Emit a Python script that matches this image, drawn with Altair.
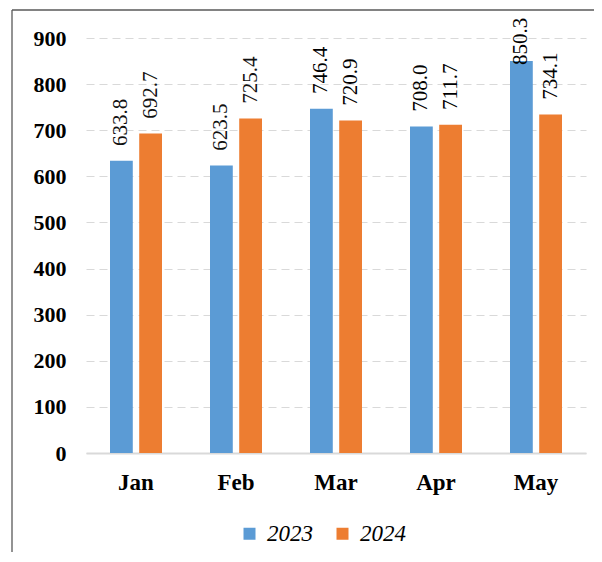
import altair as alt
import pandas as pd

months = ["Jan", "Feb", "Mar", "Apr", "May"]
years = ["2023", "2024"]
v2023 = [633.8, 623.5, 746.4, 708.0, 850.3]
v2024 = [692.7, 725.4, 720.9, 711.7, 734.1]
y_ticks = [0, 100, 200, 300, 400, 500, 600, 700, 800, 900]
sans_months = ["Jan", "Feb"]

rows = []
for m, a, b in zip(months, v2023, v2024):
    rows.append({"month": m, "year": "2023", "value": a})
    rows.append({"month": m, "year": "2024", "value": b})
df = pd.DataFrame(rows)

SERIF = "Liberation Serif"
SANS = "Liberation Sans Narrow"

x_enc = alt.X(
    "month:N", sort=months, title=None,
    scale=alt.Scale(paddingInner=0.48, paddingOuter=0.24),
    axis=alt.Axis(labelAngle=0, labelFont=SERIF, labelFontWeight="bold",
                  labelFontSize=23, labelColor="#000000", labelPadding=18,
                  ticks=False, domainColor="#d9d9d9", domainWidth=2, grid=False),
)
xoff_enc = alt.XOffset("year:N", sort=years, scale=alt.Scale(paddingInner=0.22))
y_scale = alt.Scale(domain=[0, 900], nice=False)

base = alt.Chart(df)

bars = base.mark_bar().encode(
    x=x_enc,
    xOffset=xoff_enc,
    y=alt.Y("value:Q", scale=y_scale, title=None,
            axis=alt.Axis(values=y_ticks, labelFont=SERIF, labelFontWeight="bold",
                          labelFontSize=22, labelColor="#000000", labelPadding=20,
                          ticks=False, domain=False, grid=True, gridColor="#d9d9d9",
                          gridDash=[8, 5], gridWidth=1.2)),
    color=alt.Color("year:N", sort=years,
                    scale=alt.Scale(domain=years, range=["#5B9BD5", "#ED7D31"]),
                    legend=alt.Legend(title=None, orient="none", direction="horizontal",
                                      legendX=152, legendY=484, symbolType="square",
                                      symbolSize=144, symbolStrokeWidth=0,
                                      labelFont=SERIF, labelFontStyle="italic",
                                      labelFontSize=23, labelColor="#000000",
                                      labelOffset=6, columnPadding=18)),
)

lab = base.transform_calculate(
    lab_y="min(datum.value + 32, 841.5)"
)

def text_layer(filt, font, color):
    return lab.transform_filter(filt).mark_text(
        angle=270, align="left", baseline="middle", font=font,
        fontSize=21, color=color,
    ).encode(
        x=alt.X("month:N", sort=months),
        xOffset=alt.XOffset("year:N", sort=years),
        y=alt.Y("lab_y:Q", scale=y_scale),
        text=alt.Text("value:Q", format=".1f"),
    )

sans_filter = alt.FieldOneOfPredicate(field="month", oneOf=sans_months)
serif_filter = {"not": alt.FieldOneOfPredicate(field="month", oneOf=sans_months)}

text_sans = text_layer(sans_filter, SANS, "#111111")
text_serif = text_layer(serif_filter, SERIF, "#000000")

frame_df = pd.DataFrame({"k": [0]})
frame_left = alt.Chart(frame_df).mark_rule(color="#595959", strokeWidth=1.3).encode(
    x=alt.value(-74), y=alt.value(-28), y2=alt.value(700)
)
frame_top = alt.Chart(frame_df).mark_rule(color="#595959", strokeWidth=1.3).encode(
    x=alt.value(-74), x2=alt.value(700), y=alt.value(-28)
)

chart = alt.layer(bars, text_sans, text_serif, frame_left, frame_top).properties(
    width=500, height=415,
    autosize=alt.AutoSizeParams(type="none"),
    padding={"left": 78, "top": 30, "right": 8, "bottom": 99},
    background="#ffffff",
).configure_view(stroke=None)

chart.save("out.html", embed_options={"renderer": "svg", "actions": False})
